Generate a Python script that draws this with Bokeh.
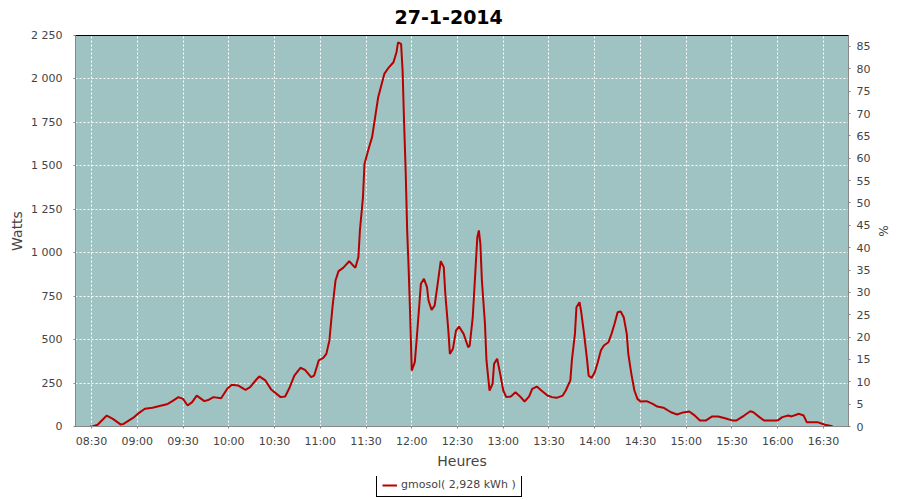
import pandas as pd
from bokeh.plotting import figure
from bokeh.layouts import column
from bokeh.models import (Range1d, LinearAxis, FixedTicker, DatetimeTickFormatter,
                          Legend, LegendItem, ColumnDataSource, Label)
from bokeh.embed import file_html
from bokeh.resources import INLINE

DAY = "2014-01-27"
TITLE = "27-1-2014"
SERIES_NAME = "gmosol( 2,928 kWh )"
X_LABEL = "Heures"
Y_LABEL = "Watts"
Y2_LABEL = "%"

TIMES = ["08:29", "08:31", "08:34", "08:40", "08:44", "08:49", "08:51", "08:58", "09:01", "09:05",
         "09:10", "09:14", "09:20", "09:23", "09:27", "09:30", "09:33", "09:36", "09:39", "09:44",
         "09:47", "09:50", "09:55", "09:59", "10:02", "10:06", "10:11", "10:14", "10:18", "10:20",
         "10:24", "10:28", "10:34", "10:37", "10:40", "10:43", "10:47", "10:50", "10:54", "10:56",
         "10:59", "11:02", "11:04", "11:06", "11:08", "11:10", "11:12", "11:15", "11:19", "11:23",
         "11:25", "11:26", "11:28", "11:29", "11:32", "11:34", "11:36", "11:38", "11:42", "11:45",
         "11:48", "11:50", "11:51", "11:53", "11:54", "11:55", "11:56", "11:57", "11:58", "11:59",
         "12:00", "12:02", "12:03", "12:05", "12:06", "12:08", "12:10", "12:11", "12:13", "12:15",
         "12:17", "12:19", "12:21", "12:22", "12:24", "12:25", "12:27", "12:29", "12:31", "12:34",
         "12:37", "12:38", "12:40", "12:42", "12:43", "12:44", "12:45", "12:46", "12:48", "12:49",
         "12:51", "12:53", "12:54", "12:56", "12:58", "13:00", "13:02", "13:05", "13:08", "13:11",
         "13:14", "13:17", "13:19", "13:22", "13:25", "13:29", "13:32", "13:35", "13:39", "13:41",
         "13:44", "13:45", "13:47", "13:48", "13:50", "13:51", "13:53", "13:55", "13:56", "13:58",
         "14:00", "14:02", "14:04", "14:06", "14:09", "14:11", "14:13", "14:15", "14:17", "14:19",
         "14:21", "14:22", "14:24", "14:26", "14:28", "14:30", "14:34", "14:38", "14:41", "14:45",
         "14:50", "14:54", "14:58", "15:02", "15:05", "15:09", "15:13", "15:17", "15:21", "15:26",
         "15:30", "15:33", "15:38", "15:42", "15:44", "15:48", "15:51", "16:00", "16:03", "16:07",
         "16:09", "16:14", "16:17", "16:19", "16:26", "16:31", "16:36"]
WATTS = [0, 2, 10, 63, 44, 12, 15, 54, 77, 102,
         108, 117, 130, 146, 169, 159, 121, 140, 178, 146,
         154, 169, 163, 217, 240, 236, 211, 226, 269, 288,
         265, 211, 169, 173, 226, 293, 338, 326, 284, 293,
         380, 395, 418, 495, 686, 840, 894, 913, 951, 913,
         974, 1128, 1319, 1511, 1607, 1665, 1780, 1895, 2029, 2067,
         2096, 2154, 2211, 2202, 2048, 1742, 1473, 1128, 898, 629,
         322, 370, 476, 706, 821, 850, 802, 725, 671, 696,
         821, 951, 917, 764, 552, 418, 447, 552, 575, 533,
         456, 466, 629, 936, 1089, 1128, 1051, 840, 591, 380,
         207, 246, 361, 390, 303, 207, 169, 173, 197, 173,
         144, 173, 217, 230, 207, 178, 169, 165, 178, 207,
         265, 380, 533, 686, 715, 667, 533, 380, 293, 280,
         312, 370, 437, 466, 485, 533, 591, 658, 662, 629,
         533, 418, 303, 207, 159, 144, 146, 130, 115, 108,
         82, 69, 81, 86, 67, 35, 35, 58, 58, 46,
         35, 35, 63, 88, 82, 54, 35, 35, 54, 63,
         58, 73, 63, 25, 25, 10, 2]

X_TICKS = ["08:30", "09:00", "09:30", "10:00", "10:30", "11:00", "11:30", "12:00", "12:30",
           "13:00", "13:30", "14:00", "14:30", "15:00", "15:30", "16:00", "16:30"]
Y_TICKS = [0, 250, 500, 750, 1000, 1250, 1500, 1750, 2000, 2250]
Y_TICK_LABELS = ["0", "250", "500", "750", "1 000", "1 250", "1 500", "1 750", "2 000", "2 250"]
PCT_TICKS = [0, 5, 10, 15, 20, 25, 30, 35, 40, 45, 50, 55, 60, 65, 70, 75, 80, 85]
X_START = "08:19:30"
X_END = "16:46:24"
Y_MAX = 2250
PCT_MAX = 87.46

FONT = "DejaVu Sans"
TEXT_COLOR = "#444444"
AXIS_COLOR = "#888888"
LINE_COLOR = "#B80000"


def ts(s):
    return pd.Timestamp(f"{DAY} {s}")


def ms(s):
    return ts(s).value / 1e6


def strip(height):
    f = figure(width=900, height=height, x_axis_type="datetime", output_backend="svg",
               toolbar_location=None, x_range=Range1d(ts(X_START), ts(X_END)),
               y_range=Range1d(0, Y_MAX), x_axis_location=None, y_axis_location=None,
               min_border_left=0, min_border_right=0, min_border_top=0, min_border_bottom=0)
    f.outline_line_color = None
    f.background_fill_color = "white"
    f.border_fill_color = "white"
    f.xgrid.visible = False
    f.ygrid.visible = False
    return f


src = ColumnDataSource(data=dict(t=[ts(s) for s in TIMES], w=WATTS))

# title strip
t = strip(28)
t.line(x="t", y="w", source=src, line_color=LINE_COLOR, line_width=2, visible=False)
t.add_layout(Label(text=TITLE, x=319, y=12, x_units="screen", y_units="screen",
                   text_font=FONT, text_font_size="19px", text_font_style="bold",
                   text_color="black", text_baseline="alphabetic", text_align="left"))

# main chart
p = figure(width=900, height=448, x_axis_type="datetime", output_backend="svg",
           toolbar_location=None, x_range=t.x_range, y_range=t.y_range,
           min_border_left=75, min_border_right=52, min_border_top=7, min_border_bottom=50)

p.background_fill_color = "#9EC3C2"
p.border_fill_color = "white"
p.outline_line_color = "black"
p.outline_line_width = 1
p.outline_line_alpha = 1

p.extra_y_ranges = {"pct": Range1d(0, PCT_MAX)}
right = LinearAxis(y_range_name="pct", axis_label=Y2_LABEL)
p.add_layout(right, "right")

xa = p.xaxis[0]
ya = p.yaxis[0]
xa.ticker = FixedTicker(ticks=[ms(s) for s in X_TICKS])
xa.formatter = DatetimeTickFormatter(minutes="%H:%M", hours="%H:%M", hourmin="%H:%M",
                                     minsec="%H:%M", seconds="%H:%M", days="%H:%M")
xa.axis_label = X_LABEL
ya.ticker = FixedTicker(ticks=Y_TICKS)
ya.major_label_overrides = {v: s for v, s in zip(Y_TICKS, Y_TICK_LABELS)}
ya.axis_label = Y_LABEL
right.ticker = FixedTicker(ticks=PCT_TICKS)

for ax in (xa, ya, right):
    ax.axis_line_color = AXIS_COLOR
    ax.major_tick_line_color = AXIS_COLOR
    ax.major_tick_in = 0
    ax.major_tick_out = 2
    ax.minor_tick_line_color = None
    ax.major_label_text_font = FONT
    ax.major_label_text_font_size = "11px"
    ax.major_label_text_color = TEXT_COLOR
    ax.major_label_standoff = 5
    ax.axis_label_text_font = FONT
    ax.axis_label_text_font_size = "14px"
    ax.axis_label_text_font_style = "normal"
    ax.axis_label_text_color = TEXT_COLOR
    ax.axis_label_standoff = 3
ya.major_label_standoff = 11
xa.major_label_standoff = 6
xa.axis_label_standoff = 2
right.major_label_standoff = 6
right.axis_label_text_font_size = "12px"

for g in (p.xgrid[0], p.ygrid[0]):
    g.grid_line_color = "white"
    g.grid_line_dash = "2 2"
    g.grid_line_width = 1

p.line(x="t", y="w", source=src, line_color=LINE_COLOR, line_width=2)

# legend strip below the chart (its glyph comes from a hidden copy of the series renderer)
q = strip(24)
lr = q.line(x="t", y="w", source=src, line_color=LINE_COLOR, line_width=2, visible=False)

legend = Legend(items=[LegendItem(label=SERIES_NAME, renderers=[lr])],
                orientation="horizontal", location=(301, 3), margin=0, padding=5,
                spacing=0, glyph_width=15, glyph_height=10, label_height=10,
                label_standoff=4, label_text_font=FONT, label_text_font_size="11px",
                label_text_color=TEXT_COLOR, border_line_color="black",
                border_line_width=1, border_line_alpha=1, background_fill_color="white",
                background_fill_alpha=1)
q.add_layout(legend, "center")

layout = column(t, p, q, spacing=0)
open("out.html", "w").write(file_html(layout, INLINE))
